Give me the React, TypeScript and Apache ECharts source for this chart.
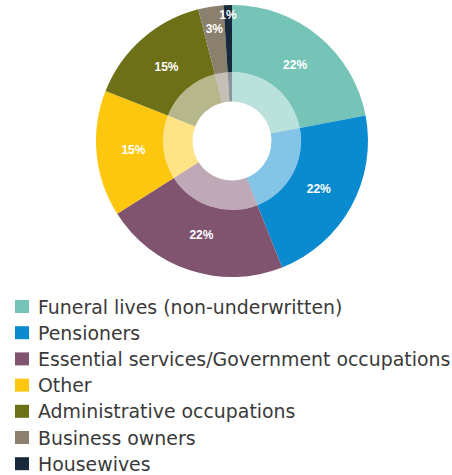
import React, { useEffect, useRef } from "react";
import * as echarts from "echarts";

const categories = [
  "Funeral lives (non-underwritten)",
  "Pensioners",
  "Essential services/Government occupations",
  "Other",
  "Administrative occupations",
  "Business owners",
  "Housewives",
];
const values = [22, 22, 22, 15, 15, 3, 1];
const colors = ["#76c3b7", "#0a8bd0", "#80536f", "#fdc70f", "#6d7016", "#8b7f6e", "#17293b"];

// which labels go on which label ring
const midLabels = [true, true, true, true, true, false, false];
const ring3 = [false, false, false, false, false, true, false];
const ring1 = [false, false, false, false, false, false, true];

const CX = 232;
const CY = 141;

export default function App() {
  const ref = useRef<HTMLDivElement>(null);
  useEffect(() => {
    document.body.style.margin = "0";
    const chart = echarts.init(ref.current!, null, { renderer: "svg" });
    const labelStyle = {
      color: "#ffffff",
      fontFamily: "Liberation Sans",
      fontWeight: "bold" as const,
      fontSize: 12,
    };
    const labelSeries = (show: boolean[], radius: number[]) => ({
      type: "pie",
      center: [CX, CY],
      radius,
      startAngle: 90,
      clockwise: true,
      silent: true,
      z: 10,
      labelLine: { show: false },
      itemStyle: { color: "rgba(0,0,0,0)" },
      data: categories.map((name, i) => ({
        name,
        value: values[i],
        label: { show: show[i], position: "inside", formatter: "{c}%", ...labelStyle },
      })),
    });
    chart.setOption({
      animation: false,
      color: colors,
      legend: {
        orient: "vertical",
        left: 15,
        top: 297,
        height: 240,
        padding: 0,
        itemWidth: 14,
        itemHeight: 13,
        itemGap: 7.2,
        icon: "rect",
        data: categories,
        selectedMode: false,
        textStyle: {
          color: "#3a3a3a",
          fontFamily: "DejaVu Sans",
          fontSize: 18.9,
          lineHeight: 18,
          padding: [0, 0, 0, 4],
        },
      },
      series: [
        {
          type: "pie",
          center: [CX, CY],
          radius: [69, 136],
          startAngle: 90,
          clockwise: true,
          silent: true,
          label: { show: false },
          labelLine: { show: false },
          data: categories.map((name, i) => ({
            name,
            value: values[i],
            itemStyle: { color: colors[i] },
          })),
        },
        {
          type: "pie",
          center: [CX, CY],
          radius: [39.5, 69],
          startAngle: 90,
          clockwise: true,
          silent: true,
          label: { show: false },
          labelLine: { show: false },
          data: categories.map((name, i) => ({
            name,
            value: values[i],
            itemStyle: { color: colors[i], opacity: 0.5 },
          })),
        },
        labelSeries(midLabels, [56, 136]),
        labelSeries(ring3, [84, 136]),
        labelSeries(ring1, [110, 136]),
      ],
    });
    return () => chart.dispose();
  }, []);
  return <div ref={ref} style={{ width: 452, height: 475 }} />;
}
